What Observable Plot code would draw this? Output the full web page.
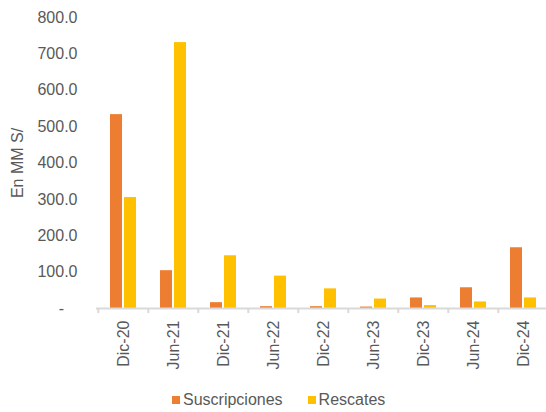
<!DOCTYPE html>
<html><head><meta charset="utf-8">
<script src="https://cdn.jsdelivr.net/npm/d3@7"></script>
<script src="https://cdn.jsdelivr.net/npm/@observablehq/plot@0.6"></script>
<style>
body{margin:0;background:#fff;font-family:"Liberation Sans",Arial,sans-serif;}
#wrap{position:relative;width:546px;height:412px;overflow:hidden;}
#legend{position:absolute;top:391px;left:172px;display:flex;align-items:center;font-size:16px;color:#595959;line-height:18px;}
.item{display:flex;align-items:center;margin-right:25px;}
.sw{display:inline-block;width:8px;height:8px;margin-right:3px;}
</style></head><body><div id="wrap"><div id="chart"></div><div id="legend"></div></div>
<script>
const periods = ["Dic-20","Jun-21","Dic-21","Jun-22","Dic-22","Jun-23","Dic-23","Jun-24","Dic-24"];
const suscripciones = [533,104,16,5,5,4,29,57,167];
const rescates = [305,731,145,89,54,26,8,18,29];
const yTicks = [0,100,200,300,400,500,600,700,800];
const seriesNames = ["Suscripciones","Rescates"];
const seriesColors = ["#ED7D31","#FFC000"];

const susData = periods.map((p,i)=>({period:p, value:suscripciones[i]}));
const resData = periods.map((p,i)=>({period:p, value:rescates[i]}));

const chart = Plot.plot({
  width: 546,
  height: 380,
  marginTop: 17,
  marginBottom: 72,
  marginLeft: 96,
  marginRight: 0,
  style: {fontFamily: '"Liberation Sans", Arial, sans-serif', fontSize: "16px", color: "#595959", overflow: "visible"},
  x: {domain: periods, range: [96, 550], padding: 0},
  y: {domain: [0, 800]},
  marks: [
    Plot.barY(susData, {x: "period", y: "value", fill: seriesColors[0], insetLeft: 12, insetRight: 26}),
    Plot.barY(resData, {x: "period", y: "value", fill: seriesColors[1], insetLeft: 26, insetRight: 12}),
    Plot.ruleY([0], {stroke: "#D9D9D9", strokeWidth: 2}),
    Plot.axisX({tickSize: 5, text: null, dx: -25.2, stroke: "#D9D9D9", strokeWidth: 2, strokeOpacity: 1, label: null}),
    Plot.axisX({tickSize: 0, tickPadding: 12, tickRotate: -90, fontSize: 16, label: null}),
    Plot.axisY({ticks: yTicks, tickSize: 0, tickPadding: 19, fontSize: 16,
      tickFormat: d => d === 0 ? "-\u00a0\u00a0\u00a0" : d.toFixed(1),
      label: "En MM S/", labelAnchor: "center", labelArrow: "none", labelOffset: 85})
  ]
});
document.getElementById("chart").appendChild(chart);

const legend = document.getElementById("legend");
seriesNames.forEach((n,i)=>{
  const it = document.createElement("div"); it.className="item";
  const sw = document.createElement("span"); sw.className="sw"; sw.style.background = seriesColors[i];
  const tx = document.createElement("span"); tx.textContent = n;
  it.appendChild(sw); it.appendChild(tx); legend.appendChild(it);
});
</script></body></html>
